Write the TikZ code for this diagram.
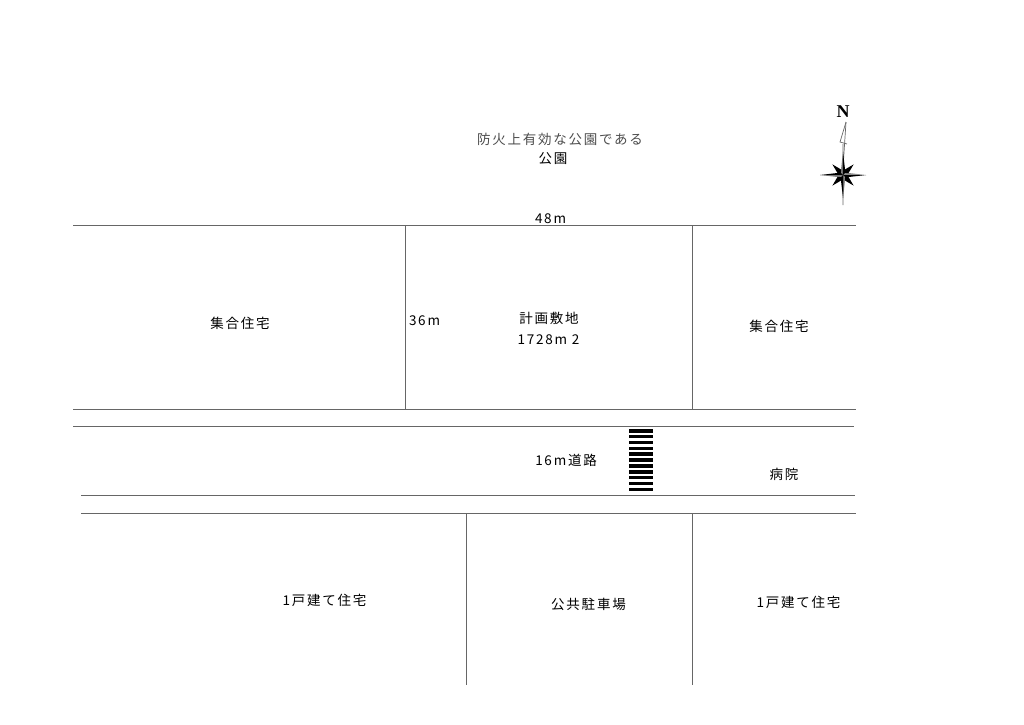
\documentclass[tikz,border=0pt]{standalone}
\usepackage{fontspec}
\setmainfont{Noto Sans CJK JP}[LetterSpace=13]
\newfontfamily\northfont{Liberation Serif}
\usepackage{tikz}

\tikzset{
  siteline/.style={draw=black!60,line width=0.85pt},
  lbl/.style={inner sep=0pt,font=\fontsize{13.5}{15}\selectfont,text=black},
  starfill/.style={fill=black,draw=none},
}

\begin{document}
\begin{tikzpicture}[x=1pt,y=-1pt]
  \useasboundingbox (0,0) rectangle (1024,724);

  % lot and road lines
  \draw[siteline] (73,225) -- (856,225);
  \draw[siteline] (405.5,225) -- (405.5,409);
  \draw[siteline] (692.5,225) -- (692.5,409);
  \draw[siteline] (73,409) -- (856,409);
  \draw[siteline] (73,426) -- (854,426);
  \draw[siteline] (81,495) -- (855,495);
  \draw[siteline] (81,513) -- (856,513);
  \draw[siteline] (466,513) -- (466,685);
  \draw[siteline] (692.5,513) -- (692.5,685);

  % crossing
  \foreach \i in {0,...,10}
    \fill (629,429+5.85*\i) rectangle (653,432.6+5.85*\i);

  \node[lbl,text=black!70] (fire)  at (560,139) {防火上有効な公園である};
  \node[lbl] (park)    at (553,159) {公園};
  \node[lbl] (north)   at (550.5,219) {48m};
  \node[lbl] (flatsw)  at (240,323) {集合住宅};
  \node[lbl] (depth)   at (424.5,321) {36m};
  \node[lbl] (site)    at (549,318) {計画敷地};
  \node[lbl] (area)    at (548.5,340) {1728m 2};
  \node[lbl] (flatse)  at (779,326) {集合住宅};
  \node[lbl] (road)    at (566,460) {16m道路};
  \node[lbl] (hosp)    at (784,474) {病院};
  \node[lbl] (housew)  at (324.5,600) {1戸建て住宅};
  \node[lbl] (carpark) at (588.5,604) {公共駐車場};
  \node[lbl] (housee)  at (798.5,602) {1戸建て住宅};

  % compass
  \node[inner sep=0pt,font=\northfont\bfseries\fontsize{18}{18}\selectfont] (N) at (843,112) {N};
  \draw[black!60,line width=0.7pt] (843,205) -- (843,144) (846,122) -- (840,142) -- (847,144);
  \draw[black!60,line width=0.7pt] (846,122) -- (843.5,160);
  \foreach \a in {0,90,180,270}
    \fill[starfill,shift={(843,175)},rotate=\a] (0,0) -- (0,-23) -- (2.4,-2.4) -- cycle;
  \foreach \a in {0,90,180,270}
    \fill[starfill,shift={(843,175)},rotate=\a,opacity=.45] (0,0) -- (0,-23) -- (-2.4,-2.4) -- cycle;
  \foreach \a in {45,135,225,315}
    \fill[starfill,shift={(843,175)},rotate=\a] (0,-3) -- (-2.6,-5) -- (0,-15) -- (2.6,-5) -- cycle;
\end{tikzpicture}
\end{document}
